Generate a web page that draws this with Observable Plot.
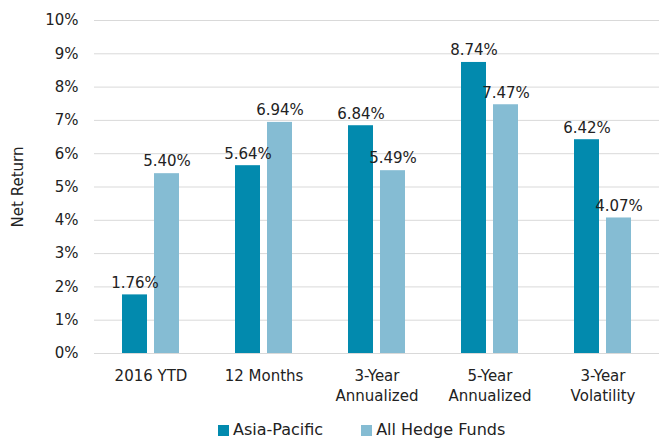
<!DOCTYPE html>
<html>
<head>
<meta charset="utf-8">
<script src="https://cdn.jsdelivr.net/npm/d3@7"></script>
<script src="https://cdn.jsdelivr.net/npm/@observablehq/plot@0.6"></script>
<style>
  body { margin: 0; background: #fff; font-family: "DejaVu Sans", sans-serif; }
  #legend { display: flex; justify-content: flex-start; gap: 38px; font-size: 16px; color: #222; margin-top: 10px; padding-left: 218px; }
  #legend span.sw { display: inline-block; width: 11px; height: 11px; margin-right: 4px; vertical-align: -1px; }
</style>
</head>
<body>
<div id="chart"></div>
<div id="legend"></div>
<script>
const categories = ["2016 YTD", "12 Months", "3-Year\nAnnualized", "5-Year\nAnnualized", "3-Year\nVolatility"];
const series = ["Asia-Pacific", "All Hedge Funds"];
const asiaPacific = [1.76, 5.64, 6.84, 8.74, 6.42];
const allHedgeFunds = [5.40, 6.94, 5.49, 7.47, 4.07];
const colors = ["#028AAE", "#85BCD3"];
const yTicks = [0, 1, 2, 3, 4, 5, 6, 7, 8, 9, 10];

const data = [];
categories.forEach((c, i) => {
  data.push({cat: c, series: series[0], value: asiaPacific[i]});
  data.push({cat: c, series: series[1], value: allHedgeFunds[i]});
});

const chart = Plot.plot({
  width: 662,
  height: 410,
  marginTop: 20,
  marginBottom: 57,
  marginLeft: 92,
  marginRight: 2,
  style: {fontFamily: "DejaVu Sans, sans-serif", fontSize: "15px", color: "#222"},
  fx: {domain: categories, padding: 0, label: null},
  x: {domain: series, paddingInner: 0.212, paddingOuter: 0.827, axis: null},
  y: {domain: [0, 10], label: null},
  color: {domain: series, range: colors},
  marks: [
    Plot.gridY(yTicks, {stroke: "#d9d9d9", strokeOpacity: 1, strokeWidth: 1}),
    Plot.axisY(yTicks, {tickFormat: d => d + "%", tickSize: 0, tickPadding: 16, fontSize: 15, fill: "#222",
      label: "Net Return", labelAnchor: "center", labelArrow: "none", labelOffset: 82}),
    Plot.axisFx({anchor: "bottom", tickSize: 0, tickPadding: 14, fontSize: 15, fill: "#222", lineHeight: 1.3, label: null}),
    Plot.barY(data, {fx: "cat", x: "series", y: "value", fill: "series"}),
    Plot.text(data, {fx: "cat", x: "series", y: "value", text: d => d.value.toFixed(2) + "%", dy: -12, fontSize: 15, fill: "#222"})
  ]
});
document.getElementById("chart").appendChild(chart);

const legend = document.getElementById("legend");
series.forEach((s, i) => {
  const item = document.createElement("div");
  item.innerHTML = `<span class="sw" style="background:${colors[i]}"></span>${s}`;
  legend.appendChild(item);
});
</script>
</body>
</html>
